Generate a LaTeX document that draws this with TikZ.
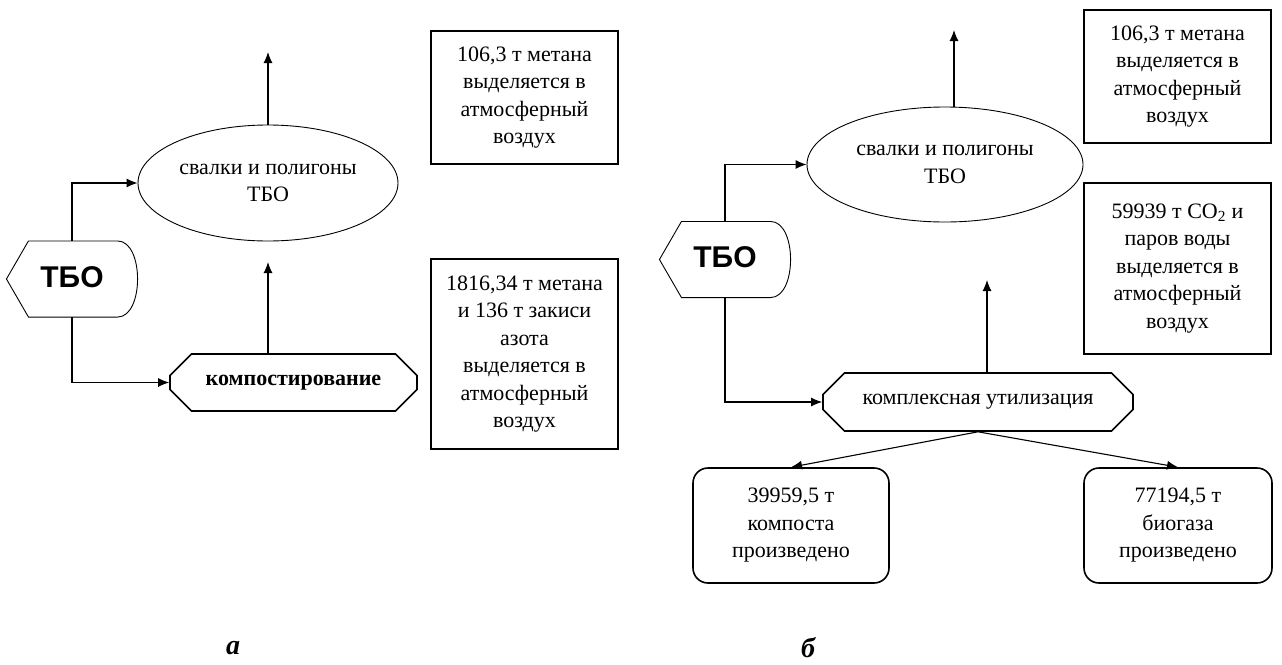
\documentclass[tikz,border=0pt]{standalone}
\usepackage{fontspec}
\setmainfont{Liberation Serif}
\setsansfont{Liberation Sans}
\usetikzlibrary{arrows.meta,shapes.geometric,shapes.misc}

\tikzset{
  txt/.style={font=\fontsize{22pt}{27.5pt}\selectfont, align=center, inner sep=0pt},
  infobox/.style={txt, draw, line width=1.2pt, minimum width=187pt},
  landfill/.style={txt, ellipse, draw, line width=0.9pt},
  process/.style={txt, chamfered rectangle, chamfered rectangle sep=14pt, draw, line width=1.6pt},
  product/.style={txt, draw, rounded corners=15pt, line width=1.6pt, minimum height=115pt},
  msw/.style={font=\sffamily\bfseries\fontsize{30pt}{30pt}\selectfont, minimum width=130pt, minimum height=75pt, inner sep=0pt},
  mswline/.style={-, line width=0.9pt},
  panel/.style={font=\bfseries\itshape\fontsize{28pt}{28pt}\selectfont},
}

\begin{document}
\begin{tikzpicture}[x=1pt, y=-1pt, ->, >={Latex[length=11pt,width=9pt]}, line width=1.1pt]
  \useasboundingbox (0,0) rectangle (1282,664);

  % panel a
  \node[msw] (tboA) at (72,279) {\raisebox{4pt}{ТБО}};
  \node[landfill, minimum width=260pt, minimum height=116pt] (ellA) at (268,183) {свалки и полигоны\\ТБО};
  \node[process, minimum width=247pt, minimum height=57pt] (kompA) at (293.5,382.5) {\bfseries компостирование};
  \node[infobox, minimum height=133pt] (boxA1) at (524.5,97.5) {106,3 т метана\\выделяется в\\атмосферный\\воздух};
  \node[infobox, minimum height=190pt] (boxA2) at (524.5,354) {1816,34 т метана\\и 136 т закиси\\азота\\выделяется в\\атмосферный\\воздух};
  \coordinate (upA) at (268,52);
  \coordinate (midA) at (268,262);

  \draw[mswline] (tboA.west) -- ([xshift=22pt]tboA.north west) -- ([xshift=-20pt]tboA.north east)
    .. controls ([xshift=6.7pt]tboA.north east) and ([xshift=6.7pt]tboA.south east) .. ([xshift=-20pt]tboA.south east)
    -- ([xshift=22pt]tboA.south west) -- cycle;
  \draw (tboA.north) |- (ellA.west);
  \draw (tboA.south) |- (kompA.west);
  \draw (ellA.north) -- (upA);
  \draw (kompA.north -| midA) -- (midA);

  % panel b
  \node[msw] (tboB) at (725,259.5) {\raisebox{4pt}{ТБО}};
  \node[landfill, minimum width=276pt, minimum height=115pt] (ellB) at (945,164.5) {свалки и полигоны\\ТБО};
  \node[process, minimum width=310pt, minimum height=58pt] (kompB) at (978,402) {комплексная утилизация};
  \node[infobox, minimum height=133pt] (boxB1) at (1177.5,76.5) {106,3 т метана\\выделяется в\\атмосферный\\воздух};
  \node[infobox, minimum height=171pt] (boxB2) at (1177.5,268.5) {59939 т CO\textsubscript{2} и\\паров воды\\выделяется в\\атмосферный\\воздух};
  \node[product, minimum width=196pt] (resB1) at (791,525.5) {39959,5 т\\компоста\\произведено};
  \node[product, minimum width=188pt] (resB2) at (1178,525.5) {77194,5 т\\биогаза\\произведено};
  \coordinate (upB) at (954,30);
  \coordinate (midB) at (987,280);

  \draw[mswline] (tboB.west) -- ([xshift=22pt]tboB.north west) -- ([xshift=-20pt]tboB.north east)
    .. controls ([xshift=6.7pt]tboB.north east) and ([xshift=6.7pt]tboB.south east) .. ([xshift=-20pt]tboB.south east)
    -- ([xshift=22pt]tboB.south west) -- cycle;
  \draw (tboB.north) |- (ellB.west);
  \draw (tboB.south) |- (kompB.west);
  \draw (ellB.north -| upB) -- (upB);
  \draw (kompB.north -| midB) -- (midB);
  \draw (kompB.south) -- (resB1.north);
  \draw (kompB.south) -- (resB2.north);

  \node[panel] (labA) at (233,648) {а};
  \node[panel] (labB) at (808,648) {б};
\end{tikzpicture}
\end{document}
